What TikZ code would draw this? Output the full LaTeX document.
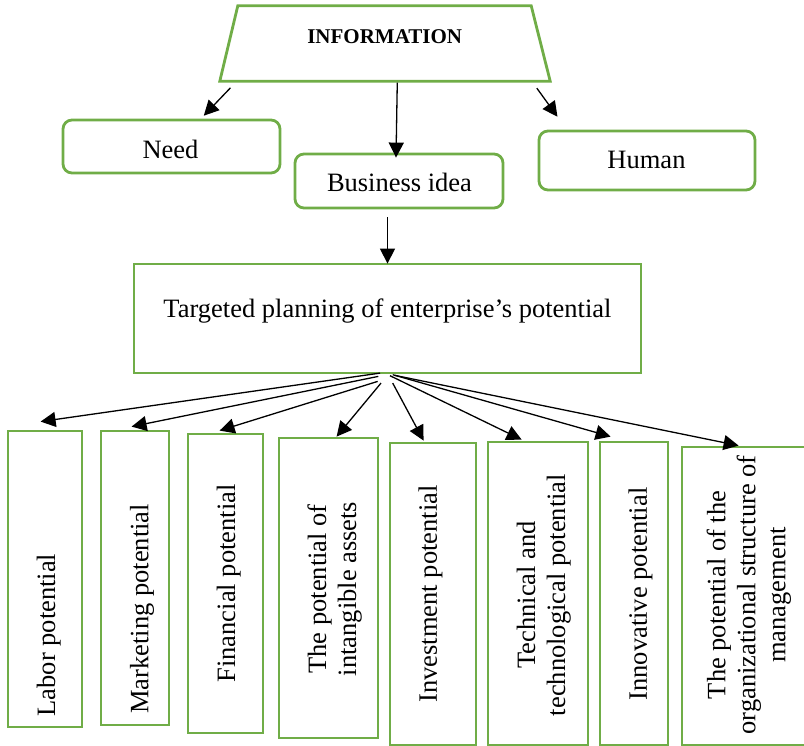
\documentclass[tikz,border=0pt]{standalone}
\usepackage{fontspec}
\setmainfont{Liberation Serif}
\usetikzlibrary{arrows.meta,calc}
\definecolor{boxgreen}{HTML}{70AD47}
\begin{document}
\begin{tikzpicture}[x=1pt,y=-1pt,
  frame/.style={draw=boxgreen,line width=2.8pt,inner sep=0pt,fill=white},
  roundbox/.style={frame,rounded corners=9pt},
  txt/.style={font=\fontsize{26.5}{30}\selectfont,inner sep=0pt},
  vtxt/.style={txt,rotate=90,align=center},
  arr/.style={-{Triangle[length=15pt,width=15pt]},line width=1.3pt}]
\useasboundingbox (0,0) rectangle (804,746);

% top level: trapezoid outline built on the extent of the info node
\node[inner sep=0pt,minimum width=330pt,minimum height=75pt] (info) at (385,43.5) {};
\draw[draw=boxgreen,line width=2.8pt,fill=white,line join=miter]
  (info.south west) -- (info.south east) -- ($(info.north east)+(-19,0)$)
  -- ($(info.north west)+(18,0)$) -- cycle;
\node[inner sep=0pt,anchor=base,font=\fontsize{21}{25}\selectfont\bfseries] (infoT) at (384.7,43.3) {INFORMATION};

% second level
\node[roundbox,minimum width=217pt,minimum height=53pt] (need) at (171.5,146.5) {};
\node[roundbox,minimum width=208pt,minimum height=54pt] (idea) at (399,181) {};
\node[roundbox,minimum width=216pt,minimum height=59pt] (human) at (647,160.5) {};
\node[txt,anchor=base] (needT) at (170.5,158.3) {Need};
\node[txt,anchor=base] (ideaT) at (399.5,191.7) {Business idea};
\node[txt,anchor=base] (humanT) at (646.5,168.3) {Human};

% planning block
\node[frame,minimum width=507pt,minimum height=109pt] (plan) at (387.5,318.5) {};
\node[txt,anchor=base] (planT) at (387.5,317.7) {Targeted planning of enterprise’s potential};

% potentials
\node[frame,minimum width=74pt,minimum height=296pt] (labor) at (45,579) {};
\node[frame,minimum width=68pt,minimum height=294pt] (market) at (135,578) {};
\node[frame,minimum width=75pt,minimum height=299pt] (fin) at (225.5,583.5) {};
\node[frame,minimum width=99pt,minimum height=300pt] (intang) at (328.5,588) {};
\node[frame,minimum width=86pt,minimum height=302pt] (invest) at (433,594) {};
\node[frame,minimum width=100pt,minimum height=303pt] (tech) at (538,593.5) {};
\node[frame,minimum width=68pt,minimum height=303pt] (innov) at (634,593.5) {};
\node[frame,minimum width=128pt,minimum height=298pt] (org) at (746,596) {};

\node[vtxt] (laborT) at (48.8,635) {Labor potential};
\node[vtxt] (marketT) at (142,609) {Marketing potential};
\node[vtxt] (finT) at (228.8,583.5) {Financial potential};
\node[vtxt] (intangT) at (334.7,589) {The potential of\\intangible assets};
\node[vtxt] (investT) at (430.5,594) {Investment potential};
\node[vtxt] (techT) at (543.8,595) {Technical and\\technological potential};
\node[vtxt] (innovT) at (640.5,594) {Innovative potential};
\node[vtxt] (orgT) at (748.8,595) {The potential of the\\organizational structure of\\management};

% connectors
\draw[arr,shorten <=9.2pt,shorten >=4pt] ($(info.south west)+(17,0)$) -- ($(need.north west)+(139.4,0)$);
\draw[arr,shorten <=8.6pt,shorten >=15.9pt] ($(info.south west)+(312,0)$) -- ($(human.north west)+(29.2,0)$);
\draw[arr,shorten <=1.5pt,shorten >=-5pt] ($(info.south west)+(177.5,0)$) -- ($(idea.north west)+(102.5,0)$);
\draw[arr,shorten <=8pt,shorten >=-1pt] (plan.north |- idea.south) -- (plan.north);

\draw[arr] ($(plan.south)+(-7.5,-1.3)$) -- ($(labor.north west)+(34,-8)$);
\draw[arr] ($(plan.south)+(-9.2,2)$) -- ($(market.north west)+(32,-3)$);
\draw[arr] ($(plan.south)+(-9.8,7)$) -- ($(fin.north west)+(33,-2)$);
\draw[arr] ($(plan.south)+(-6.5,8.7)$) -- ($(intang.north west)+(59,0)$);
\draw[arr] ($(plan.south)+(5.2,8.7)$) -- ($(invest.north west)+(35,-1)$);
\draw[arr] ($(plan.south)+(2.5,1.3)$) -- ($(tech.north west)+(35,-1)$);
\draw[arr] ($(plan.south)+(5.2,0.3)$) -- ($(innov.north west)+(12,-4)$);
\draw[arr] ($(plan.south)+(7.5,1)$) -- ($(org.north west)+(58,0)$);
\end{tikzpicture}
\end{document}
